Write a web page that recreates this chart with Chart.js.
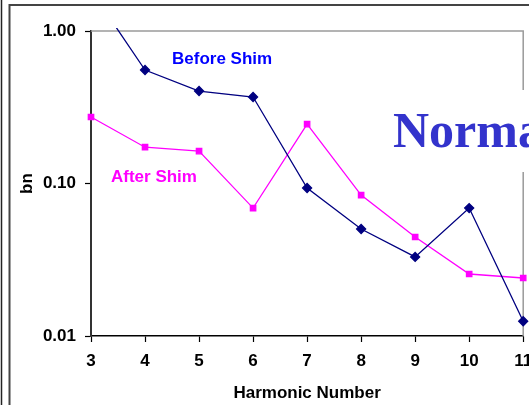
<!DOCTYPE html>
<html><head><meta charset="utf-8">
<script src="https://cdn.jsdelivr.net/npm/chart.js@4/dist/chart.umd.min.js"></script>
<style>html,body{margin:0;padding:0;background:#fff;overflow:hidden}#c{display:block}</style>
</head><body><canvas id="c" width="529" height="405"></canvas>
<script>
const harmonics = [3, 4, 5, 6, 7, 8, 9, 10, 11];
const beforeShim = [1.85, 0.555, 0.404, 0.369, 0.0934, 0.0503, 0.033, 0.069, 0.0125];
const afterShim = [0.273, 0.173, 0.163, 0.069, 0.245, 0.084, 0.0446, 0.0255, 0.024];
const yTickValues = [0.01, 0.1, 1];
const yTickLabels = ['0.01', '0.10', '1.00'];
const seriesNames = ['Before Shim', 'After Shim'];
const xTitle = 'Harmonic Number';
const yTitle = 'bn';
const sideText = 'Normal';

const FONT = "'Liberation Sans', Arial, sans-serif";

const decor = {
  id: 'decor',
  beforeDraw(chart) {
    const ctx = chart.ctx;
    ctx.save();
    ctx.fillStyle = '#fff';
    ctx.fillRect(0, 0, chart.width, chart.height);
    ctx.strokeStyle = '#222';
    ctx.lineWidth = 1.5;
    ctx.beginPath(); ctx.moveTo(1.5, 0); ctx.lineTo(1.5, 405); ctx.stroke();
    ctx.strokeStyle = '#444';
    ctx.lineWidth = 2;
    ctx.beginPath(); ctx.moveTo(9.5, 405); ctx.lineTo(9.5, 5); ctx.lineTo(529, 5); ctx.stroke();
    ctx.restore();
  },
  beforeDatasetsDraw(chart) {
    const ctx = chart.ctx, a = chart.chartArea;
    ctx.save();
    ctx.strokeStyle = '#9a9a9a';
    ctx.lineWidth = 1.5;
    ctx.beginPath();
    ctx.moveTo(a.left, a.top); ctx.lineTo(a.right, a.top); ctx.lineTo(a.right, a.bottom);
    ctx.stroke();
    ctx.restore();
  },
  afterDatasetsDraw(chart) {
    const ctx = chart.ctx;
    ctx.save();
    ctx.textBaseline = 'alphabetic';
    ctx.textAlign = 'left';
    ctx.font = 'bold 17px ' + FONT;
    ctx.fillStyle = '#0000FF';
    ctx.fillText(seriesNames[0], 172, 64);
    ctx.fillStyle = '#FF00FF';
    ctx.fillText(seriesNames[1], 111, 182);
    ctx.fillStyle = '#fff';
    ctx.fillRect(386, 90, 143, 82);
    ctx.font = "bold 50px 'Liberation Serif', 'Times New Roman', serif";
    ctx.fillStyle = '#3333CC';
    ctx.fillText(sideText, 393, 147);
    ctx.restore();
  }
};

new Chart(document.getElementById('c'), {
  type: 'line',
  data: {
    datasets: [
      {
        label: seriesNames[0],
        data: harmonics.map((h, i) => ({x: h, y: beforeShim[i]})),
        borderColor: '#000080',
        backgroundColor: '#000080',
        borderWidth: 1.3,
        pointStyle: 'rectRot',
        pointRadius: 4.5,
        pointHoverRadius: 4.5,
        tension: 0,
        clip: {left: 10, right: 10, top: 3, bottom: 10}
      },
      {
        label: seriesNames[1],
        data: harmonics.map((h, i) => ({x: h, y: afterShim[i]})),
        borderColor: '#FF00FF',
        backgroundColor: '#FF00FF',
        borderWidth: 1.3,
        pointStyle: 'rect',
        pointRadius: 3.8,
        pointHoverRadius: 3.8,
        tension: 0,
        clip: {left: 10, right: 10, top: 3, bottom: 10}
      }
    ]
  },
  options: {
    responsive: false,
    animation: false,
    events: [],
    layout: {padding: {left: 0, right: 4, top: 31, bottom: 0}},
    plugins: {legend: {display: false}, tooltip: {enabled: false}},
    scales: {
      x: {
        type: 'linear',
        min: harmonics[0],
        max: harmonics[harmonics.length - 1],
        afterBuildTicks: s => { s.ticks = harmonics.map(v => ({value: v})); },
        afterFit: s => { s.height = 69; s.paddingRight = 0; s.paddingLeft = 0; },
        ticks: {
          color: '#000',
          font: {family: FONT, size: 17, weight: 'bold'},
          padding: 9,
          maxRotation: 0,
          callback: v => String(v)
        },
        grid: {drawOnChartArea: false, drawTicks: true, tickLength: 6, tickColor: '#000', tickWidth: 1.2},
        border: {color: '#000', width: 1.5},
        title: {
          display: true, text: xTitle, color: '#000',
          font: {family: FONT, size: 17, weight: 'bold'},
          padding: {top: 0, bottom: 1}
        }
      },
      y: {
        type: 'logarithmic',
        min: 0.01,
        max: 1,
        afterBuildTicks: s => { s.ticks = yTickValues.map(v => ({value: v})); },
        afterFit: s => { s.width = 91; s.paddingTop = 0; s.paddingBottom = 0; },
        ticks: {
          color: '#000',
          font: {family: FONT, size: 17, weight: 'bold'},
          padding: 9,
          callback: (v) => { const i = yTickValues.findIndex(t => Math.abs(t - v) < 1e-9); return i >= 0 ? yTickLabels[i] : ''; }
        },
        grid: {drawOnChartArea: false, drawTicks: true, tickLength: 6, tickColor: '#000', tickWidth: 1.2},
        border: {color: '#333', width: 2},
        title: {
          display: true, text: yTitle, color: '#000',
          font: {family: FONT, size: 17, weight: 'bold'},
          padding: {top: 17, bottom: 0}
        }
      }
    }
  },
  plugins: [decor]
});
</script>
</body></html>
